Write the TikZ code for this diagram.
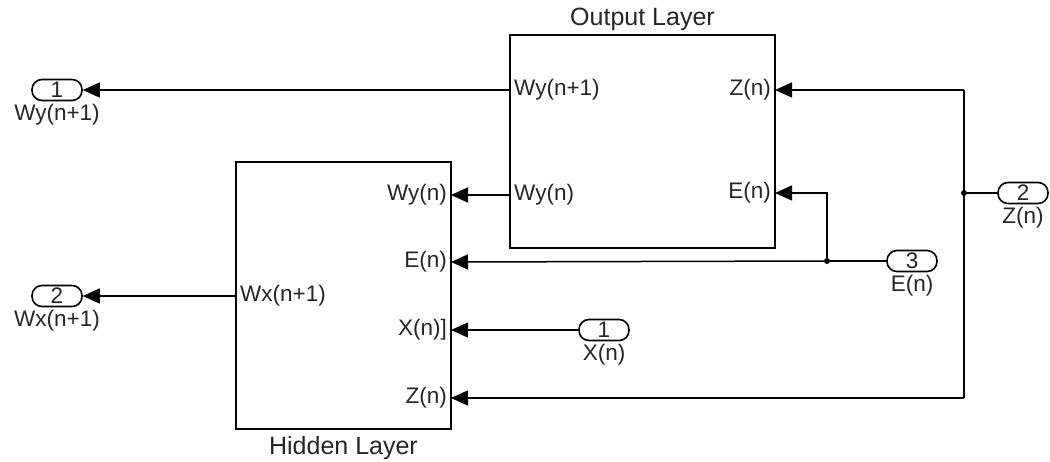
\documentclass[tikz,border=0pt]{standalone}
\usepackage{fontspec}
\setmainfont{Liberation Sans}
\usetikzlibrary{arrows.meta,positioning}

\tikzset{
  block/.style={draw, line width=1.7pt, inner sep=0pt},
  port/.style={draw, line width=1.6pt, rounded corners=10pt, minimum width=50pt, minimum height=21pt, inner sep=0pt},
  pin/.style={inner sep=4pt},
  title/.style={font=\fontsize{25}{29}\selectfont},
  wire/.style={line width=1.5pt},
  sig/.style={wire, -{Triangle[length=17pt,width=15pt]}},
  dot/.style={circle, fill, inner sep=0pt, minimum size=6pt}
}

\begin{document}
\begin{tikzpicture}[x=1pt, y=-1pt, font=\fontsize{22.5}{26}\selectfont, text=black!85]
    \useasboundingbox (0,0) rectangle (1050,461);

    % Blocks
    \node[block, minimum width=265pt, minimum height=213pt] (outl) at (642.5,141.5) {};
    \node[title, above=0pt of outl] {Output Layer};
    \node[block, minimum width=215pt, minimum height=267pt] (hidl) at (343.5,295.5) {};
    \node[title, below=3pt of hidl] {Hidden Layer};

    % Block ports
    \node[pin, anchor=west] (owy1) at (510,90) {Wy(n+1)};
    \node[pin, anchor=west] (owy) at (510,195) {Wy(n)};
    \node[pin, anchor=east] (oz) at (775,90) {Z(n)};
    \node[pin, anchor=east] (oe) at (775,193) {E(n)};
    \node[pin, anchor=west] (hwx1) at (236,296) {Wx(n+1)};
    \node[pin, anchor=east] (hwy) at (451,195) {Wy(n)};
    \node[pin, anchor=east] (he) at (451,262) {E(n)};
    \node[pin, anchor=east] (hx) at (451,330) {X(n)]};
    \node[pin, anchor=east] (hz) at (451,398) {Z(n)};

    % In and out ports
    \node[port] (yout) at (57,90) {1};
    \node[below=-1pt of yout] {Wy(n+1)};
    \node[port] (xout) at (57,296) {2};
    \node[below=-1pt of xout] {Wx(n+1)};
    \node[port] (xin) at (604,330) {1};
    \node[below=-1pt of xin] {X(n)};
    \node[port] (ein) at (912,261) {3};
    \node[below=-1pt of ein] {E(n)};
    \node[port] (zin) at (1023,193) {2};
    \node[below=-1pt of zin] {Z(n)};

    % Branch points
    \node[dot] (ej) at (827,261) {};
    \node[dot] (zj) at (964,193) {};
    \coordinate (ztop) at (964,90);
    \coordinate (zbot) at (964,398);
    \coordinate (eup) at (827,193);

    % Signals
    \draw[sig] (owy1.west) -- (yout.east);
    \draw[sig] (hwx1.west) -- (xout.east);
    \draw[sig] (owy.west) -- (hwy.east);
    \draw[sig] (xin.west) -- (hx.east);
    \draw[wire] (ein.west) -- (ej);
    \draw[sig] (ej) -- (he.east);
    \draw[sig] (ej) -- (eup) -- (oe.east);
    \draw[wire] (zin.west) -- (zj);
    \draw[wire] (ztop) -- (zbot);
    \draw[sig] (ztop) -- (oz.east);
    \draw[sig] (zbot) -- (hz.east);
\end{tikzpicture}
\end{document}
